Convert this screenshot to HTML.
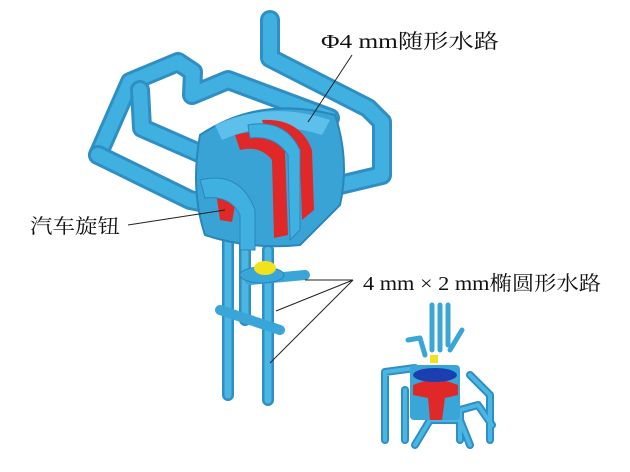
<!DOCTYPE html>
<html><head><meta charset="utf-8"><style>
html,body{margin:0;padding:0;background:#fff;width:630px;height:472px;overflow:hidden}
svg{display:block}
text{font-family:"Liberation Serif","Noto Serif CJK SC",serif;fill:#111}
</style></head><body>
<svg width="630" height="472" viewBox="0 0 630 472">
<g fill="none" stroke-linecap="round" stroke-linejoin="round">
<path d="M270 20 L270 58 L368 108 L382 122 L382 175 L340 185" stroke="#2f8fc4" stroke-width="20"/>
<path d="M270 20 L270 58 L368 108 L382 122 L382 175 L340 185" stroke="#3fb0e0" stroke-width="14"/>
<path d="M98 155 L130 82 L178 62 L193 72 L192 95 L228 80 L330 118" stroke="#2f8fc4" stroke-width="20"/>
<path d="M98 155 L130 82 L178 62 L193 72 L192 95 L228 80 L330 118" stroke="#3fb0e0" stroke-width="14"/>
<path d="M140 90 L142 128 L215 160" stroke="#2f8fc4" stroke-width="20"/>
<path d="M140 90 L142 128 L215 160" stroke="#3fb0e0" stroke-width="14"/>
<path d="M98 155 L190 200 L230 208" stroke="#2f8fc4" stroke-width="20"/>
<path d="M98 155 L190 200 L230 208" stroke="#3fb0e0" stroke-width="14"/>
<path d="M228 240 L228 395 M268 250 L268 400 M245 240 L245 320" stroke="#2f8fc4" stroke-width="12"/>
<path d="M228 240 L228 395 M268 250 L268 400 M245 240 L245 320" stroke="#4ab6e2" stroke-width="7"/>
<path d="M220 310 L280 330 M250 280 L305 275" stroke="#3aa6d8" stroke-width="10"/>
</g>
<path d="M200 135 Q260 95 335 115 Q350 160 340 205 L300 245 Q250 250 205 235 Q190 190 200 135Z" fill="#3aa3d6" stroke="#2a86bb" stroke-width="2"/>
<path d="M215 125 Q270 100 330 120 L322 135 Q270 118 222 140Z" fill="#5cc0ea"/>
<path d="M235 135 Q270 125 285 150 L288 235 L274 238 L272 160 Q260 145 240 150Z" fill="#e02828"/>
<path d="M262 120 Q300 118 312 150 L314 210 L302 220 L300 160 Q290 135 266 132Z" fill="#e02828"/>
<path d="M215 185 Q232 180 235 205 L232 222 L220 220Z" fill="#e02828"/>
<path d="M248 125 Q285 118 300 150 L300 230 L290 240 L288 155 Q275 135 250 138Z" fill="#3fb0e0" stroke="#2a86bb" stroke-width="1"/>
<path d="M200 180 Q240 170 255 210 L255 250 L240 250 L240 215 Q230 195 205 198Z" fill="#3fb0e0" stroke="#2a86bb" stroke-width="1"/>
<ellipse cx="262" cy="275" rx="22" ry="8" fill="#3aa6d8" stroke="#2a86bb"/>
<ellipse cx="265" cy="268" rx="11" ry="7" fill="#f2e21c"/>
<g fill="none" stroke-linecap="round" stroke-linejoin="round">
<path d="M385 440 L385 372 L415 368 M405 440 L405 390 M470 375 L490 395 L490 440 M460 440 L460 410 L478 405 L492 425 M415 445 L430 420 L460 420 L470 445" stroke="#2f8fc4" stroke-width="8"/>
<path d="M385 440 L385 372 L415 368 M405 440 L405 390 M470 375 L490 395 L490 440 M460 440 L460 410 L478 405 L492 425 M415 445 L430 420 L460 420 L470 445" stroke="#4ab6e2" stroke-width="4"/>
<path d="M432 305 L432 350 M440 305 L440 350 M448 305 L448 345 M408 340 L420 338 L425 355 M462 330 L450 350" stroke="#3aa6d8" stroke-width="5"/>
</g>
<rect x="410" y="365" width="50" height="55" rx="4" fill="#3aa6d8"/>
<path d="M413 385 Q435 375 458 385 L458 395 L445 398 L442 420 L430 420 L428 398 L413 395Z" fill="#e02828"/>
<ellipse cx="435" cy="375" rx="22" ry="7" fill="#1a3fb0"/>
<rect x="430" y="355" width="8" height="8" fill="#f2e21c"/>
<g stroke="#222" stroke-width="1" fill="none">
<line x1="352" y1="55" x2="308" y2="122"/>
<line x1="128" y1="225" x2="225" y2="210"/>
<line x1="353" y1="280" x2="305" y2="280"/>
<line x1="353" y1="280" x2="276" y2="311"/>
<line x1="353" y1="280" x2="270" y2="363"/>
</g>
<text x="321" y="48" font-size="20" textLength="178" lengthAdjust="spacingAndGlyphs">Φ4 mm随形水路</text>
<text x="30" y="233" font-size="20" textLength="90" lengthAdjust="spacingAndGlyphs">汽车旋钮</text>
<text x="363" y="290" font-size="20" textLength="238" lengthAdjust="spacingAndGlyphs">4 mm × 2 mm椭圆形水路</text>
</svg>
</body></html>
